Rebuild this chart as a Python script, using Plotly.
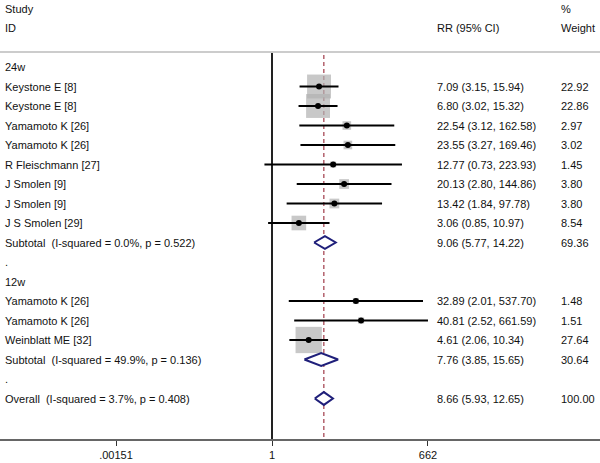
import plotly.graph_objects as go

studies = ["Keystone E [8]", "Keystone E [8]", "Yamamoto K [26]", "Yamamoto K [26]",
           "R Fleischmann [27]", "J Smolen [9]", "J Smolen [9]", "J S Smolen [29]",
           "Yamamoto K [26]", "Yamamoto K [26]", "Weinblatt ME [32]"]
study_rows = [1, 2, 3, 4, 5, 6, 7, 8, 12, 13, 14]
rr = [7.09, 6.80, 22.54, 23.55, 12.77, 20.13, 13.42, 3.06, 32.89, 40.81, 4.61]
lo = [3.15, 3.02, 3.12, 3.27, 0.73, 2.80, 1.84, 0.85, 2.01, 2.52, 2.06]
hi = [15.94, 15.32, 162.58, 169.46, 223.93, 144.86, 97.78, 10.97, 537.70, 661.59, 10.34]
weight = [22.92, 22.86, 2.97, 3.02, 1.45, 3.80, 3.80, 8.54, 1.48, 1.51, 27.64]

pooled_labels = ["Subtotal  (I-squared = 0.0%, p = 0.522)",
                 "Subtotal  (I-squared = 49.9%, p = 0.136)",
                 "Overall  (I-squared = 3.7%, p = 0.408)"]
pooled_rows = [9, 15, 17]
pooled_rr = [9.06, 7.76, 8.66]
pooled_lo = [5.77, 3.85, 5.93]
pooled_hi = [14.22, 15.65, 12.65]
pooled_weight = [69.36, 30.64, 100.00]

group_labels = ["24w", ".", "12w", "."]
group_rows = [0, 10, 11, 16]

tick_vals = [0.00151, 1, 662]
tick_text = [".00151", "1", "662"]

W, H = 600, 463
PX_PER_DEC = 55.3
X1_PX = 272
ROW0_PX, ROW_H = 67, 19.5
AX_PX = 439

def row_of(px):
    return (px - ROW0_PX) / ROW_H

FONT = "Liberation Sans, Arial, sans-serif"
NAVY = "#1f1f7a"
MAROON = "#a03a48"
TXT = "#111111"

fig = go.Figure()

# vertical null line at 1
fig.add_trace(go.Scatter(x=[1, 1], y=[row_of(53), row_of(AX_PX)], mode="lines",
                         line=dict(color="#222222", width=2), hoverinfo="skip", showlegend=False))
# overall dashed line
fig.add_trace(go.Scatter(x=[pooled_rr[-1]] * 2, y=[row_of(55), row_of(AX_PX)], mode="lines",
                         line=dict(color=MAROON, width=1.2, dash="4px,3px"), hoverinfo="skip", showlegend=False))

# weight boxes
fig.add_trace(go.Scatter(x=rr, y=study_rows, mode="markers",
                         marker=dict(symbol="square", size=[5.0 * w ** 0.5 for w in weight],
                                     color="#b0b0b0", line=dict(width=0)),
                         hoverinfo="skip", showlegend=False))
# CI lines
cx, cy = [], []
for l, h, r in zip(lo, hi, study_rows):
    cx += [l, h, None]
    cy += [r, r, None]
fig.add_trace(go.Scatter(x=cx, y=cy, mode="lines", line=dict(color="black", width=2),
                         hoverinfo="skip", showlegend=False))
# point estimates
fig.add_trace(go.Scatter(x=rr, y=study_rows, mode="markers",
                         marker=dict(symbol="circle", size=6, color="black"),
                         hoverinfo="skip", showlegend=False))
# diamonds
dh = 0.33
for l, e, h, r in zip(pooled_lo, pooled_rr, pooled_hi, pooled_rows):
    fig.add_trace(go.Scatter(x=[l, e, h, e, l], y=[r, r - dh, r, r + dh, r], mode="lines",
                             fill="toself", fillcolor="white",
                             line=dict(color=NAVY, width=2), hoverinfo="skip", showlegend=False))

ann = []
def txt(xpx, row, s):
    ann.append(dict(x=xpx / W, xref="paper", y=row, yref="y", text=s, showarrow=False,
                    xanchor="left", yanchor="middle", font=dict(family=FONT, size=11, color=TXT)))

# headers
txt(3, row_of(9), "Study")
txt(3, row_of(28), "ID")
txt(435, row_of(28), "RR (95% CI)")
txt(559, row_of(9), "%")
txt(559, row_of(28), "Weight")

for s, r in zip(group_labels, group_rows):
    txt(3, r, s)
for s, r, e, l, h, w in zip(studies, study_rows, rr, lo, hi, weight):
    txt(3, r, s)
    txt(435, r, f"{e:.2f} ({l:.2f}, {h:.2f})")
    txt(559, r, f"{w:.2f}")
for s, r, e, l, h, w in zip(pooled_labels, pooled_rows, pooled_rr, pooled_lo, pooled_hi, pooled_weight):
    txt(3, r, s)
    txt(435, r, f"{e:.2f} ({l:.2f}, {h:.2f})")
    txt(559, r, f"{w:.2f}")

left_dec = -X1_PX / PX_PER_DEC
right_dec = (W - X1_PX) / PX_PER_DEC

fig.update_layout(
    width=W, height=H,
    margin=dict(l=0, r=0, t=0, b=H - AX_PX),
    paper_bgcolor="white", plot_bgcolor="white",
    annotations=ann,
    shapes=[dict(type="line", xref="paper", yref="y", x0=0, x1=1,
                 y0=row_of(52), y1=row_of(52), line=dict(color="#cccccc", width=2))],
    xaxis=dict(type="log", range=[left_dec, right_dec], tickvals=tick_vals, ticktext=tick_text,
               showgrid=False, zeroline=False, showline=True, linecolor="#666666", linewidth=2,
               ticks="outside", ticklen=5, tickcolor="#333333", tickwidth=1,
               tickfont=dict(family=FONT, size=11, color=TXT)),
    yaxis=dict(range=[row_of(AX_PX), row_of(0)], visible=False, showgrid=False, zeroline=False),
)

fig.write_html("out.html", config={"displayModeBar": False},
               post_script="document.body.style.margin='0';document.body.style.overflow='hidden';")
